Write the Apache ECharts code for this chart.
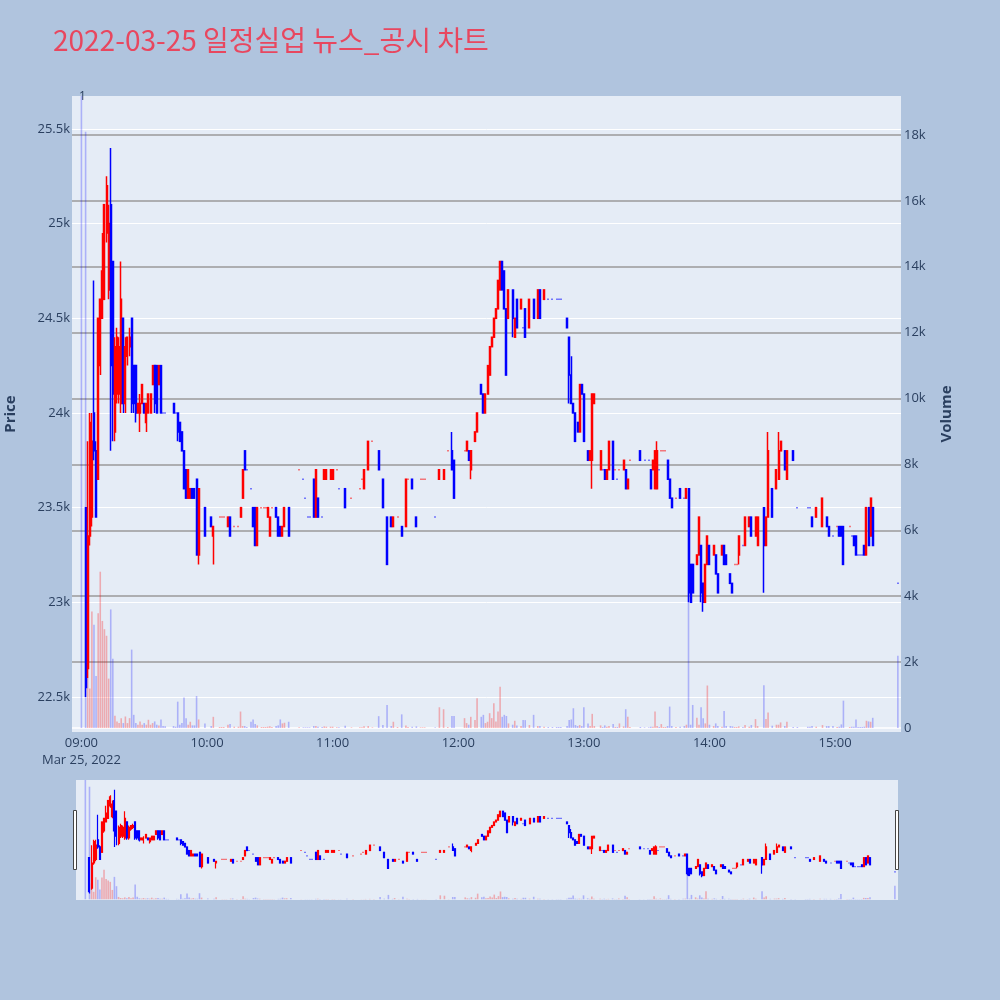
<!DOCTYPE html>
<html><head><meta charset="utf-8">
<script src="https://cdn.jsdelivr.net/npm/echarts@6/dist/echarts.min.js"></script>
<style>html,body{margin:0;padding:0;background:#b0c4de;}#c{width:1000px;height:1000px;}</style>
</head><body><div id="c"></div>
<script>
// minutes after 09:00
const minutesAfterOpen = [
0,2,3,4,5,6,7,8,9,10,
11,12,13,14,15,16,17,18,19,20,
21,22,23,24,25,26,27,28,29,30,
31,32,33,34,35,36,37,38,39,40,
44,45,46,47,48,49,50,51,52,53,
54,55,56,59,62,63,66,67,68,70,
71,73,75,76,77,78,79,81,82,83,
84,86,87,88,89,90,91,93,94,95,
96,97,99,104,106,107,108,109,111,112,
113,115,116,117,119,120,122,123,126,129,
133,134,135,137,139,142,144,146,148,149,
151,153,155,156,158,160,162,163,164,169,
171,173,175,177,178,183,184,185,186,188,
189,191,192,193,194,195,196,197,198,199,
200,201,202,203,204,206,207,208,210,211,
212,214,216,218,219,221,223,225,227,228,
229,232,233,234,235,236,237,238,239,240,
242,243,244,245,248,249,250,251,252,254,
255,256,257,259,260,261,262,267,269,271,
272,273,274,275,276,277,278,279,280,281,
282,284,286,288,289,290,291,292,294,295,
296,297,298,299,300,302,303,304,306,307,
308,310,311,312,313,314,316,317,319,320,
322,323,326,327,328,330,332,333,334,336,
337,340,342,347,348,349,351,354,356,357,
359,361,362,363,364,367,368,369,370,371,
372,373,374,375,376,377,378,390];
const opens = [
null,23500,22650,23350,23450,24000,23800,23650,24250,24500,
24600,24950,24650,25100,24800,23900,24100,24100,24050,24500,
24050,24300,24350,24500,24250,24250,24000,24000,24050,24050,
23950,24000,24000,24150,24250,24250,24150,24250,24000,24000,
24050,24000,24000,23950,23900,23800,23700,23550,23550,23600,
23600,23650,23250,23500,23450,23350,23450,23450,23450,23400,
23450,23400,23400,23450,23550,23800,23700,23600,23500,23500,
23300,23500,23500,23500,23450,23350,23500,23500,23450,23400,
23350,23400,23500,23700,23650,23550,23450,23450,23650,23450,
23550,23450,23650,23650,23650,23650,23700,23600,23600,23550,
23600,23650,23600,23700,23850,23800,23650,23450,23450,23400,
23450,23400,23400,23650,23650,23450,23650,23650,23650,23450,
23650,23650,23800,23800,23750,23800,23800,23800,23700,23850,
23900,24150,24100,24000,24100,24200,24350,24400,24500,24550,
24650,24800,24750,24550,24500,24650,24400,24600,24550,24450,
24550,24450,24600,24500,24650,24600,24600,24600,24600,24600,
24600,24500,24400,24200,24050,24000,23950,23900,24150,24100,
23800,23750,23750,24050,23700,23700,23700,23650,23700,23850,
23700,23650,23700,23700,23700,23600,23750,23800,23750,23750,
23700,23700,23600,23600,23700,23800,23800,23800,23750,23650,
23550,23550,23600,23550,23550,23600,23200,23200,23200,23250,
23300,23100,23000,23200,23300,23250,23250,23150,23250,23300,
23250,23150,23100,23200,23200,23250,23300,23300,23400,23450,
23350,23300,23500,23300,23450,23600,23600,23650,23800,23800,
23650,23800,23500,23500,23500,23450,23450,23400,23450,23400,
23350,23400,23400,23400,23400,23400,23350,23350,23350,23250,
23250,23250,23300,23250,23500,23350,23500,23100];
const closes = [
null,22550,23350,23950,23850,23800,23450,24500,24600,24750,
25100,25200,25000,24250,24100,24350,24400,24350,24600,24050,
24350,24400,24400,24050,24050,24000,24050,24050,24150,24000,
24050,24100,24100,24250,24050,24000,24250,24000,24000,24000,
24000,24000,23900,23850,23800,23600,23550,23700,23600,23550,
23550,23250,23600,23350,23400,23400,23450,23450,23450,23450,
23350,23400,23400,23500,23700,23700,23700,23600,23400,23300,
23500,23500,23500,23500,23500,23450,23500,23450,23350,23350,
23400,23500,23350,23700,23650,23550,23450,23450,23450,23700,
23450,23450,23700,23700,23700,23700,23700,23600,23500,23550,
23600,23650,23700,23850,23850,23700,23500,23200,23400,23450,
23450,23350,23650,23650,23600,23400,23650,23650,23650,23450,
23700,23700,23800,23700,23550,23800,23850,23750,23800,23900,
24000,24100,24000,24100,24250,24350,24400,24500,24550,24700,
24800,24650,24550,24200,24650,24500,24500,24450,24600,24450,
24400,24600,24500,24650,24500,24650,24600,24600,24600,24600,
24600,24450,24200,24050,24000,23850,23900,24150,24100,23850,
23750,23800,24100,24100,23800,23700,23650,23700,23850,23650,
23700,23650,23700,23750,23600,23650,23750,23750,23750,23750,
23600,23750,23800,23800,23700,23800,23800,23800,23650,23550,
23500,23550,23550,23550,23600,23050,23000,23050,23250,23450,
23050,23000,23200,23350,23200,23300,23150,23050,23300,23200,
23200,23100,23050,23200,23200,23350,23300,23450,23450,23350,
23450,23450,23300,23450,23800,23450,23700,23800,23850,23700,
23800,23750,23500,23500,23500,23400,23500,23550,23400,23350,
23350,23400,23350,23350,23200,23400,23350,23300,23250,23250,
23250,23250,23250,23500,23300,23550,23300,23100];
const lows = [
null,22500,22600,23300,23400,23750,23450,23650,24200,24500,
24600,24900,24600,23800,23850,23850,24050,24050,24000,24000,
24000,24250,24300,24000,24000,23950,24000,23900,24050,24000,
23900,24000,24000,24150,24000,24000,24150,24000,24000,24000,
24000,24000,23850,23850,23800,23600,23550,23550,23550,23550,
23550,23250,23200,23350,23400,23200,23450,23450,23450,23400,
23350,23400,23400,23450,23550,23700,23700,23600,23400,23300,
23300,23500,23500,23500,23450,23350,23500,23450,23350,23350,
23350,23400,23350,23700,23650,23550,23450,23450,23450,23450,
23450,23450,23650,23650,23650,23650,23700,23600,23500,23550,
23600,23650,23600,23700,23850,23700,23500,23200,23400,23400,
23450,23350,23400,23650,23600,23400,23650,23650,23650,23450,
23650,23650,23800,23700,23550,23800,23800,23750,23650,23850,
23900,24100,24000,24000,24100,24200,24350,24400,24500,24550,
24650,24650,24550,24200,24500,24400,24400,24450,24550,24450,
24400,24450,24500,24500,24500,24600,24600,24600,24600,24600,
24600,24450,24050,24050,24000,23850,23900,23900,24100,23850,
23750,23750,23600,24050,23700,23700,23650,23650,23700,23650,
23700,23650,23700,23700,23600,23600,23750,23750,23750,23750,
23600,23700,23600,23600,23700,23800,23800,23800,23650,23550,
23500,23550,23550,23550,23550,23000,23000,23050,23200,23250,
23000,22950,23000,23200,23200,23250,23150,23050,23250,23200,
23200,23100,23050,23200,23200,23200,23300,23300,23400,23350,
23350,23300,23050,23300,23450,23450,23600,23650,23800,23700,
23650,23750,23500,23500,23500,23400,23450,23400,23400,23350,
23350,23400,23350,23350,23200,23400,23350,23300,23250,23250,
23250,23250,23250,23250,23300,23350,23300,23100];
const highs = [
null,23500,23850,24000,24000,24700,23850,24500,24600,24950,
25100,25250,25100,25400,24800,24400,24450,24400,24800,24500,
24400,24400,24450,24500,24250,24250,24050,24100,24150,24050,
24050,24100,24100,24250,24250,24250,24250,24250,24000,24000,
24050,24000,24000,23950,23900,23800,23700,23700,23600,23600,
23600,23650,23600,23500,23450,23400,23450,23450,23450,23450,
23450,23400,23400,23500,23700,23800,23700,23600,23500,23500,
23500,23500,23500,23500,23500,23450,23500,23500,23450,23400,
23400,23500,23500,23700,23650,23550,23450,23450,23650,23700,
23550,23450,23700,23700,23700,23700,23700,23600,23600,23550,
23600,23650,23700,23850,23850,23800,23650,23450,23450,23450,
23450,23400,23650,23650,23650,23450,23650,23650,23650,23450,
23700,23700,23800,23900,23750,23800,23850,23800,23800,23900,
24000,24150,24100,24100,24250,24350,24400,24500,24550,24700,
24800,24800,24750,24550,24650,24650,24500,24600,24600,24450,
24550,24600,24600,24650,24650,24650,24600,24600,24600,24600,
24600,24500,24400,24300,24050,24000,23950,24150,24150,24100,
23800,23800,24100,24100,23800,23700,23700,23700,23850,23850,
23700,23650,23700,23750,23700,23650,23750,23800,23750,23750,
23700,23750,23800,23850,23700,23800,23800,23800,23750,23650,
23550,23550,23600,23550,23600,23600,23200,23200,23250,23450,
23300,23100,23200,23350,23300,23300,23250,23150,23300,23300,
23250,23150,23100,23200,23200,23350,23300,23450,23450,23450,
23450,23450,23500,23450,23900,23600,23700,23900,23850,23800,
23800,23800,23500,23500,23500,23450,23500,23550,23450,23400,
23350,23400,23400,23400,23400,23400,23350,23350,23350,23250,
23250,23250,23300,23500,23500,23550,23500,23100];
const volumes = [
40000,18100,2560,1200,3540,3135,1580,3480,4745,3250,
3000,2800,1500,3600,2100,370,200,150,300,150,
350,150,300,2380,400,150,100,200,100,150,
100,250,100,150,200,100,80,260,60,50,
60,40,800,100,150,930,300,100,190,80,
80,970,260,140,60,340,30,30,30,100,
120,40,40,500,60,60,30,190,260,120,
80,30,30,30,40,50,30,60,80,260,
140,160,190,20,20,20,20,20,60,60,
40,30,50,40,40,40,20,20,70,20,
20,20,50,60,20,360,90,700,60,190,
30,415,80,30,40,50,20,20,20,20,
630,570,30,365,365,300,150,100,340,240,
900,340,400,150,190,450,300,750,200,500,
1250,340,400,365,140,100,220,80,60,240,
240,90,400,60,60,40,30,30,30,30,
30,60,240,260,600,90,60,90,60,630,
140,60,430,60,80,30,80,40,60,120,
30,30,140,50,570,340,30,30,20,20,
40,40,500,60,30,120,30,30,60,650,
60,30,40,60,100,7200,100,700,310,100,
630,300,140,1290,100,60,140,60,40,520,
60,60,50,30,30,50,30,90,40,90,
270,60,1300,270,470,70,100,100,170,60,
190,30,30,40,40,60,40,90,60,60,
60,30,40,110,830,30,40,40,260,30,
30,30,40,220,200,190,310,2190];

const TITLE = '2022-03-25 일정실업 뉴스_공시 차트';
const DATE_LABEL = 'Mar 25, 2022';
const PAD = 4, NCAT = 396;
const UP = '#ff0000', DOWN = '#0000ff';
const UPV = 'rgba(255,0,0,0.28)', DOWNV = 'rgba(0,0,255,0.25)';

function hhmm(m){const t=9*60+m;return String(Math.floor(t/60)).padStart(2,'0')+':'+String(t%60).padStart(2,'0');}
const cats=[];for(let i=0;i<NCAT;i++)cats.push(hhmm(i-PAD));

// direction like plotly: flat candles compare with previous close
const dirs=[];let prevC=null,prevD=1;
for(let i=0;i<minutesAfterOpen.length;i++){
  const o=opens[i],c=closes[i];
  if(o==null){dirs.push(-1);continue;}
  let d; if(c>o)d=1;else if(c<o)d=-1;else d=(prevC==null)?prevD:(c>prevC?1:(c<prevC?-1:prevD));
  prevC=c;prevD=d;dirs.push(d);
}
const candle=cats.map(()=>['-','-','-','-']);
const vol=cats.map(()=>'-');
minutesAfterOpen.forEach((m,i)=>{
  const idx=m+PAD; const col=dirs[i]>0?UP:DOWN;
  if(opens[i]!=null){
    candle[idx]={value:[opens[i],closes[i],lows[i],highs[i]],itemStyle:{color:col,color0:col,borderColor:col,borderColor0:col,borderColorDoji:col}};
  }
  vol[idx]={value:volumes[i],itemStyle:{color:dirs[i]>0?UPV:DOWNV}};
});

const TXT='#2a3f5f';
const FONT='"Open Sans", "Noto Sans", sans-serif';
const chart=echarts.init(document.getElementById('c'),null,{renderer:'canvas',devicePixelRatio:1});
chart.setOption({
  animation:false,
  backgroundColor:'#b0c4de',
  title:{text:TITLE,left:48,top:21,textStyle:{fontSize:28,fontWeight:'normal',color:'#e8475f',fontFamily:'"Noto Sans CJK KR", sans-serif'}},
  grid:[
    {left:72,top:96,width:829,height:636,show:true,backgroundColor:'#e5ecf6',borderWidth:0,containLabel:false,outerBoundsMode:'none'},
    {left:76,top:780,width:822,height:120,show:true,backgroundColor:'#e5ecf6',borderWidth:0,containLabel:false,outerBoundsMode:'none'}
  ],
  xAxis:[
    {type:'category',gridIndex:0,data:cats,boundaryGap:true,
     axisLine:{show:false},axisTick:{show:false},splitLine:{show:false},
     axisLabel:{interval:(i,v)=>v.endsWith(':00')&&i>=PAD,margin:3,color:TXT,fontSize:13,fontFamily:FONT,lineHeight:17,
       hideOverlap:false,formatter:v=>v==='09:00'?'09:00\n'+DATE_LABEL:v}},
    {type:'category',gridIndex:1,data:cats,boundaryGap:true,show:false}
  ],
  yAxis:[
    {type:'value',gridIndex:0,position:'left',min:22315,max:25674,splitNumber:6,
     name:'Price',nameLocation:'middle',nameGap:54,nameRotate:90,
     nameTextStyle:{color:TXT,fontSize:15,fontWeight:'bold',fontFamily:FONT},
     axisLine:{show:false},axisTick:{show:false},
     axisLabel:{showMinLabel:false,showMaxLabel:false,margin:2,color:TXT,fontSize:13,fontFamily:FONT,formatter:v=>(v/1000)+'k'},
     splitLine:{show:true,showMinLine:false,showMaxLine:false,lineStyle:{color:'#ffffff',width:1}}},
    {type:'value',gridIndex:0,position:'right',min:-121,max:19184,splitNumber:9,
     name:'Volume',nameLocation:'middle',nameGap:38,nameRotate:90,
     nameTextStyle:{color:TXT,fontSize:15,fontWeight:'bold',fontFamily:FONT},
     axisLine:{show:false},axisTick:{show:false},
     axisLabel:{showMinLabel:false,showMaxLabel:false,margin:3,color:TXT,fontSize:13,fontFamily:FONT,formatter:v=>v===0?'0':(v/1000)+'k'},
     splitLine:{show:true,showMinLine:false,showMaxLine:false,lineStyle:{color:['#ffffff','#9a9a9a','#9a9a9a','#9a9a9a','#9a9a9a','#9a9a9a','#9a9a9a','#9a9a9a','#9a9a9a','#9a9a9a'],width:1.5}}},
    {type:'value',gridIndex:1,min:22315,max:25674,show:false,splitLine:{show:false}},
    {type:'value',gridIndex:1,min:-121,max:19184,show:false,splitLine:{show:false}}
  ],
  series:[
    {type:'bar',xAxisIndex:0,yAxisIndex:1,data:vol,barWidth:1.6,z:1,silent:true},
    {type:'candlestick',xAxisIndex:0,yAxisIndex:0,data:candle,barWidth:1.5,z:3,itemStyle:{borderWidth:1.5}},
    {type:'bar',xAxisIndex:1,yAxisIndex:3,data:vol,barWidth:1.6,z:1,silent:true},
    {type:'candlestick',xAxisIndex:1,yAxisIndex:2,data:candle,barWidth:1.5,z:3,itemStyle:{borderWidth:1.2}}
  ],
  graphic:[
    {type:'text',left:79,top:91,style:{text:'1',fill:TXT,fontSize:12,fontFamily:FONT}},
    {type:'rect',shape:{x:73.5,y:810.5,width:3,height:59},style:{fill:'#ffffff',stroke:'#444444',lineWidth:1}},
    {type:'rect',shape:{x:895.5,y:810.5,width:3,height:59},style:{fill:'#ffffff',stroke:'#444444',lineWidth:1}}
  ]
});
</script></body></html>
